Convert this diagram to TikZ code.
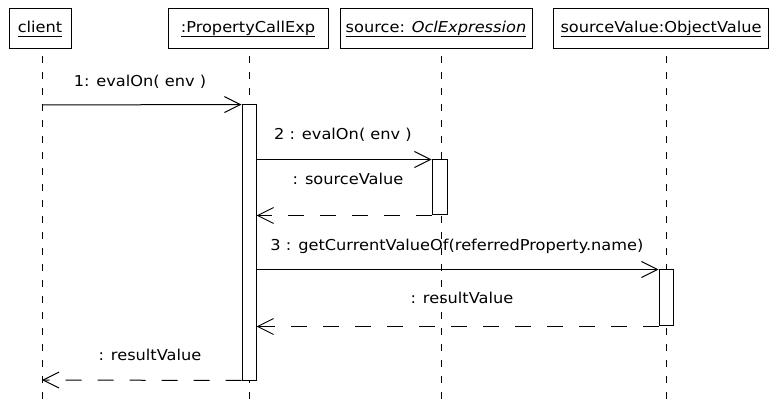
\documentclass[tikz,border=0pt]{standalone}
\usepackage{fontspec}
\setmainfont{DejaVu Sans}[FakeStretch=1.08]
\usetikzlibrary{arrows.meta}
\newcommand\objname[1]{\underline{\vphantom{py}#1}}
\begin{document}
\begin{tikzpicture}[x=1pt,y=-1pt,
  font=\fontsize{15}{18}\selectfont,
  head/.style={draw, line width=1pt, fill=white, minimum height=40pt, inner sep=0pt},
  lifeline/.style={line width=1pt, dash pattern=on 7pt off 9pt, dash phase=9pt},
  act/.style={draw, line width=1pt, fill=white, minimum width=14pt, inner sep=0pt},
  barb/.style={-{Straight Barb[length=16pt,width=16pt,line width=1pt]}},
  call/.style={line width=1pt, barb},
  reply/.style={line width=1pt, barb, dash pattern=on 16pt off 16pt},
  msg/.style={anchor=base, inner sep=0pt}]
\useasboundingbox (0,0) rectangle (769,406);
\clip (0,0) rectangle (769,406);

% object heads
\node[head, minimum width=62pt]  (client) at (40,29)  {\objname{client}};
\node[head, minimum width=160pt] (pce)    at (248,29) {\objname{:PropertyCallExp}};
\node[head, minimum width=192pt] (src)    at (436,29) {\objname{source: \textit{OclExpression}}};
\node[head, anchor=west, inner xsep=7pt] (sval) at (553,29) {\objname{sourceValue:ObjectValue}};

% lifelines
\coordinate (lcTop) at (42,49);   \coordinate (lcBot) at (42,406);
\coordinate (lpTop) at (249,49);  \coordinate (lpBot) at (249,406);
\coordinate (lsTop) at (441,49);  \coordinate (lsBot) at (441,406);
\coordinate (lvTop) at (666,49);  \coordinate (lvBot) at (666,406);
\draw[lifeline] (lcTop) -- (lcBot);
\draw[lifeline] (lpTop) -- (lpBot);
\draw[lifeline] (lsTop) -- (lsBot);
\draw[lifeline] (lvTop) -- (lvBot);

% activations
\node[act, minimum height=275pt] (a1) at (249,242.5) {};
\node[act, minimum width=15pt, minimum height=55pt] (a2) at (439.5,187.5) {};
\node[act, minimum height=56pt] (a3) at (666,298) {};

% messages
\coordinate (m1s) at (42,105);
\coordinate (r1e) at (42,380);
\draw[call]  (m1s) -- (a1.north west);
\draw[call]  (a1.east |- a2.north) -- (a2.north west);
\draw[reply] (a2.south west) -- (a1.east |- a2.south);
\draw[call]  (a1.east |- a3.north) -- (a3.north west);
\draw[reply] (a3.south west) -- (a1.east |- a3.south);
\draw[reply] (a1.south west) -- (r1e);

% message labels
\node[msg] (t1) at (140,87)  {1: evalOn( env )};
\node[msg] (t2) at (343,140) {2 : evalOn( env )};
\node[msg] (t3) at (348,185) {: sourceValue};
\node[msg] (t4) at (457,251) {3 : getCurrentValueOf(referredProperty.name)};
\node[msg] (t5) at (462,304) {: resultValue};
\node[msg] (t6) at (150,360) {: resultValue};
\end{tikzpicture}
\end{document}
